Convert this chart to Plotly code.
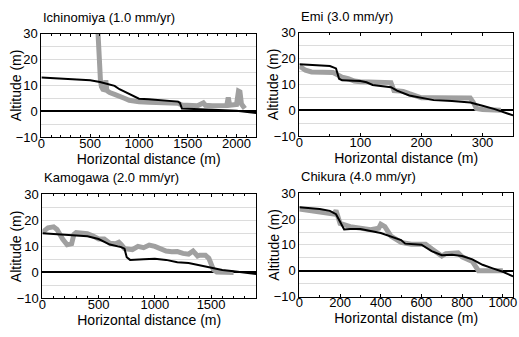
import plotly.graph_objects as go

# ---------------- data ----------------
titles = ["Ichinomiya (1.0 mm/yr)", "Emi (3.0 mm/yr)", "Kamogawa (2.0 mm/yr)", "Chikura (4.0 mm/yr)"]

ich_obs_x = [575, 585, 595, 605, 615, 630, 650, 660, 670, 700, 750, 800, 850, 900, 950, 1000, 1100, 1200, 1300, 1400,
             1440, 1500, 1600, 1660, 1680, 1750, 1850, 1900, 1915, 1930, 1950, 2000, 2020, 2035, 2050, 2070, 2085]
ich_obs_y = [34, 25, 17, 12, 9.5, 8.5, 8.3, 12, 8, 7.2, 6.5, 6, 5, 4.2, 3.8, 3.6, 3.4, 3.3, 3.2, 3.1,
             2.4, 2.2, 2.1, 3.2, 2.3, 2.1, 2.1, 2.2, 5.3, 2.3, 2.4, 2.6, 7.8, 7.5, 2.8, 1.5, 1.0]
ich_mod_x = [0, 200, 500, 600, 700, 750, 800, 850, 900, 950, 1000, 1100, 1200, 1300, 1400, 1420, 1440, 1500, 1800, 2000, 2200]
ich_mod_y = [13.0, 12.6, 12.0, 11.3, 10.4, 9.8, 8.5, 7.5, 6.8, 5.6, 4.8, 4.6, 4.3, 4.1, 3.7, 3.2, 1.0, 0.9, 0.5, 0.2, -0.7]

emi_obs_x = [0, 10, 20, 55, 60, 65, 70, 80, 90, 100, 110, 120, 150, 155, 170, 180, 190, 200, 220, 250, 280, 285, 290, 300, 320, 330]
emi_obs_y = [17.1, 15.5, 14.8, 14.6, 14.0, 13.4, 12.8, 12.2, 11.3, 11.0, 11.0, 10.8, 10.7, 7.6, 7.3, 6.4, 5.4, 4.8, 4.8, 4.9, 4.7, 3.0, 0.7, 0.3, 0.0, 0.0]
emi_mod_x = [0, 50, 60, 63, 65, 70, 100, 110, 120, 150, 160, 180, 200, 210, 220, 250, 280, 300, 320, 350]
emi_mod_y = [17.8, 17.1, 16.2, 14.0, 12.2, 11.6, 11.3, 10.8, 9.8, 8.9, 7.6, 5.7, 4.8, 4.6, 3.9, 3.6, 3.0, 1.7, 0.4, -2.0]

kam_obs_x = [0, 50, 100, 130, 180, 220, 260, 280, 300, 400, 450, 500, 550, 600, 650, 680, 700, 730, 800, 850, 900, 950,
             1000, 1050, 1100, 1150, 1200, 1250, 1300, 1340, 1380, 1400, 1450, 1480, 1520, 1550, 1700]
kam_obs_y = [15.4, 17.1, 17.5, 16.5, 12.8, 10.6, 11.0, 14.6, 15.3, 14.9, 14.0, 12.8, 12.8, 11.2, 11.0, 11.6, 10.7, 9.1, 8.7,
             10.0, 9.5, 10.5, 10.0, 9.1, 8.2, 7.9, 8.0, 7.3, 7.0, 8.2, 6.3, 6.6, 6.6, 5.4, 1.1, 0.1, 0.0]
kam_mod_x = [0, 200, 400, 500, 550, 600, 700, 730, 750, 780, 900, 1000, 1100, 1200, 1300, 1400, 1500, 1600, 1700, 1800, 1900]
kam_mod_y = [15.0, 14.4, 13.9, 12.8, 11.8, 10.7, 9.7, 9.1, 5.8, 4.8, 5.0, 5.2, 4.8, 3.9, 3.6, 2.7, 1.7, 0.9, 0.4, -0.1, -0.6]

chi_obs_x = [0, 100, 170, 180, 200, 250, 300, 350, 390, 400, 420, 450, 500, 550, 600, 620, 650, 700, 720, 780, 800, 850, 880, 900, 1000]
chi_obs_y = [23.9, 22.6, 22.0, 23.3, 18.3, 17.1, 16.7, 15.9, 16.5, 18.0, 17.1, 13.4, 11.0, 10.3, 10.3, 10.3, 8.5, 5.7, 6.6, 6.9, 5.4, 3.6, 0.0, 0.0, 0.0]
chi_mod_x = [0, 100, 150, 180, 200, 220, 250, 300, 400, 450, 500, 520, 600, 650, 700, 750, 800, 850, 900, 950, 1000, 1050]
chi_mod_y = [24.6, 23.9, 23.2, 21.9, 19.0, 16.0, 16.2, 16.2, 14.6, 13.4, 11.9, 10.5, 10.1, 7.6, 6.0, 6.2, 5.7, 4.4, 2.3, 0.9, -0.4, -2.2]

x_ranges = [[0, 2200], [0, 350], [0, 1900], [0, 1050]]
x_dticks = [500, 100, 500, 200]
x_minor = [100, 50, 100, 100]

obs = [(ich_obs_x, ich_obs_y), (emi_obs_x, emi_obs_y), (kam_obs_x, kam_obs_y), (chi_obs_x, chi_obs_y)]
mod = [(ich_mod_x, ich_mod_y), (emi_mod_x, emi_mod_y), (kam_mod_x, kam_mod_y), (chi_mod_x, chi_mod_y)]

# ---------------- layout ----------------
W, H = 519, 337
# pixel boxes of the four plot areas: (left, right, top, bottom)
boxes = [(38, 256, 28, 136), (300, 517, 27, 135), (39, 256, 196, 305), (300, 517, 195, 303)]
ytitle_x = [13, 274, 13, 274]

fig = go.Figure()
font = "Liberation Sans, Arial, sans-serif"
layout = dict(width=W, height=H, margin=dict(l=0, r=0, t=0, b=0),
              paper_bgcolor="white", plot_bgcolor="white", showlegend=False,
              font=dict(family=font, size=13, color="black"))
annotations = []
for i in range(4):
    L, R, T, B = boxes[i]
    xs = "x" if i == 0 else f"x{i+1}"
    ys = "y" if i == 0 else f"y{i+1}"
    xk = "xaxis" if i == 0 else f"xaxis{i+1}"
    yk = "yaxis" if i == 0 else f"yaxis{i+1}"
    fig.add_trace(go.Scatter(x=obs[i][0], y=obs[i][1], mode="lines", xaxis=xs, yaxis=ys,
                             line=dict(color="#a0a0a0", width=5), hoverinfo="skip"))
    fig.add_trace(go.Scatter(x=mod[i][0], y=mod[i][1], mode="lines", xaxis=xs, yaxis=ys,
                             line=dict(color="black", width=2), hoverinfo="skip"))
    layout[xk] = dict(domain=[L / W, R / W], anchor=ys, range=x_ranges[i], dtick=x_dticks[i], tick0=0,
                      showgrid=False, zeroline=False, showline=True, linecolor="black", linewidth=1,
                      mirror="ticks", ticks="inside", ticklen=3, tickcolor="black",
                      minor=dict(dtick=x_minor[i], ticks="inside", ticklen=2, tickcolor="black", showgrid=False),
                      ticklabeloverflow="allow", ticklabelstandoff=-6,
                      tickfont=dict(size=13), title=dict(text="Horizontal distance (m)", font=dict(size=14), standoff=0))
    layout[yk] = dict(domain=[1 - B / H, 1 - T / H], anchor=xs, range=[-10, 30], dtick=10, tick0=0,
                      showgrid=True, gridcolor="#dcdcdc", gridwidth=1,
                      minor=dict(dtick=5, showgrid=True, gridcolor="#dcdcdc", gridwidth=1),
                      zeroline=True, zerolinecolor="black", zerolinewidth=1.5,
                      showline=True, linecolor="black", linewidth=1, mirror=True, ticks="",
                      tickfont=dict(size=13))
    annotations.append(dict(text=titles[i], xref=f"{xs} domain", yref=f"{ys} domain", x=0, y=1,
                            xanchor="left", yanchor="bottom", xshift=0, yshift=7, showarrow=False,
                            font=dict(size=13)))
    annotations.append(dict(text="Altitude (m)", xref="paper", yref=f"{ys} domain", x=ytitle_x[i] / W, y=0.5,
                            xanchor="center", yanchor="middle", textangle=-90, showarrow=False,
                            font=dict(size=14)))
layout["annotations"] = annotations
fig.update_layout(**layout)
fig.write_html("out.html")
